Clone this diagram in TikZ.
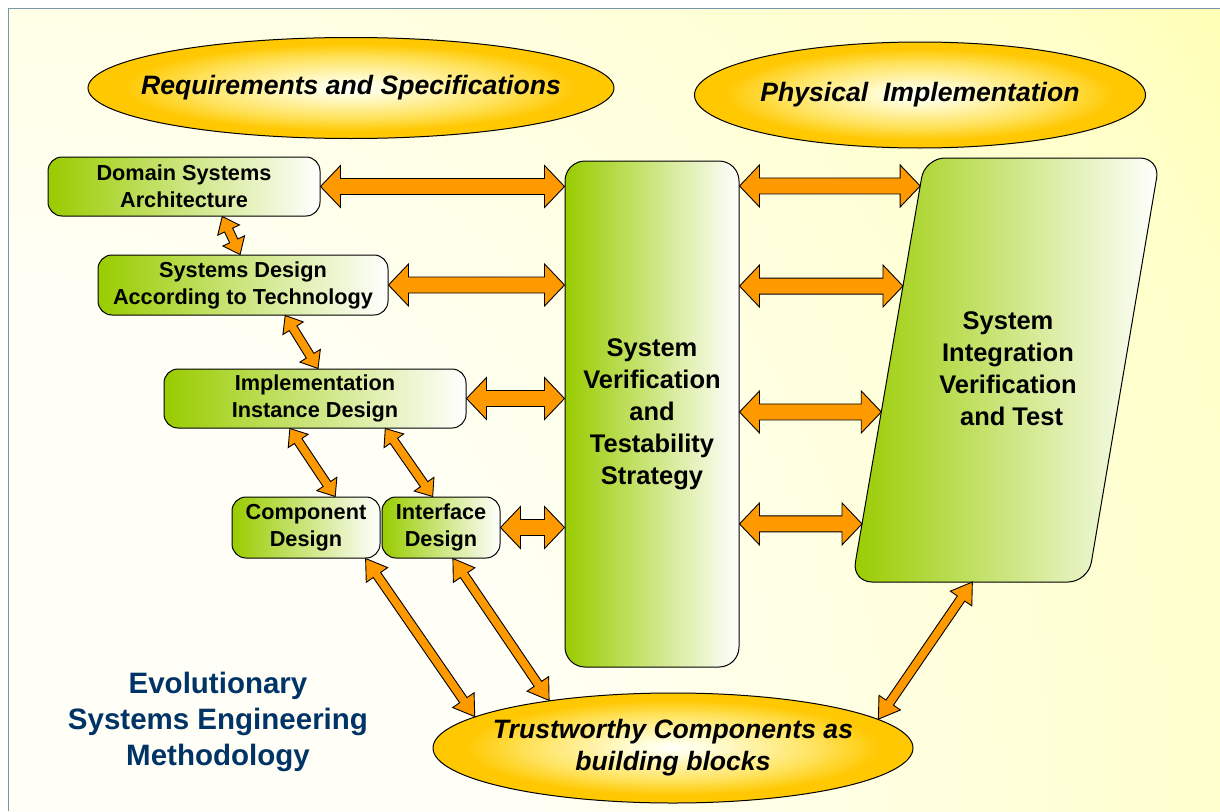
\documentclass[tikz,border=0pt]{standalone}
\usepackage{fontspec}
\setmainfont{Liberation Sans}
\usetikzlibrary{calc,shapes.geometric}
\definecolor{grn}{RGB}{153,204,0}
\definecolor{org}{RGB}{255,153,0}
\definecolor{navy}{RGB}{0,51,102}
\definecolor{bgy}{RGB}{255,255,153}
\definecolor{bga}{RGB}{255,255,200}
\definecolor{bgb}{RGB}{255,255,224}
\definecolor{bgw}{RGB}{255,255,248}
\definecolor{eA}{RGB}{255,255,225}
\definecolor{eB}{RGB}{255,226,90}
\definecolor{eC}{RGB}{255,200,0}
\definecolor{frm}{RGB}{120,150,170}
\pgfdeclareradialshading{bgsh}{\pgfpoint{0bp}{0bp}}{color(0bp)=(bgw); color(8bp)=(bgw); color(15bp)=(bgb); color(22bp)=(bga); color(28bp)=(bgy); color(50bp)=(bgy)}
% stepped radial fill of an ellipse: #1 centre, #2 x radius, #3 y radius
\newcommand\ellbody[3]{%
  \foreach \i in {0,...,44}{%
    \pgfmathsetmacro\s{1-\i/45}%
    \pgfmathsetmacro\pa{min(100,max(0,(\s-0.62)/0.26*100))}%
    \pgfmathsetmacro\pb{min(100,max(0,(\s-0.14)/0.48*100))}%
    \pgfmathsetmacro\pc{min(100,max(0,\s/0.14*100))}%
    \ifdim\s pt>0.62pt \colorlet{ec}{eC!\pa!eB}%
    \else\ifdim\s pt>0.14pt \colorlet{ec}{eB!\pb!eA}%
    \else\colorlet{ec}{eA!\pc!white}\fi\fi
    \fill[ec] #1 ellipse [x radius=#2*\s, y radius=#3*\s];
  }}
% #1 start, #2 end, #3 shaft half width, #4 head half width, #5 head length
\newcommand\dblarr[5]{%
  \draw[arr] (#1)
    -- ($(#1)!#5!(#2)!#4!90:(#2)$)
    -- ($(#1)!#5!(#2)!#3!90:(#2)$)
    -- ($(#2)!#5!(#1)!#3!-90:(#1)$)
    -- ($(#2)!#5!(#1)!#4!-90:(#1)$)
    -- (#2)
    -- ($(#2)!#5!(#1)!#4!90:(#1)$)
    -- ($(#2)!#5!(#1)!#3!90:(#1)$)
    -- ($(#1)!#5!(#2)!#3!-90:(#2)$)
    -- ($(#1)!#5!(#2)!#4!-90:(#2)$)
    -- cycle;}
\begin{document}
\begin{tikzpicture}[x=1pt,y=-1pt,
  box/.style={draw=black, line width=1pt, rounded corners=14pt, left color=grn, right color=white, align=center, inner sep=0pt, font=\fontsize{21.7}{27}\selectfont\bfseries},
  ell/.style={ellipse, draw=black, line width=1pt, inner sep=0pt},
  elltxt/.style={align=center, font=\fontsize{26.6}{32}\selectfont\bfseries\itshape},
  bigtxt/.style={align=center, font=\fontsize{25.5}{32}\selectfont\bfseries},
  arr/.style={draw=black, fill=org, line width=0.9pt, line join=miter}]
\useasboundingbox (0,0) rectangle (1220,811);
\fill[white] (0,0) rectangle (1220,811);
\begin{scope}
  \clip (8.5,8.5) rectangle (1220,811);
  \shade[shading=bgsh] (0,811) circle (1500);
\end{scope}
\draw[frm, line width=1.2pt] (8.5,811) -- (8.5,8.5) -- (1220,8.5);

% ellipses
\ellbody{(351,88)}{263}{50.5}
\node[ell, minimum width=526, minimum height=101] (req) at (351,88) {};
\node[elltxt] (reqt) at (req) {Requirements and Specifications};
\ellbody{(920,95)}{225.5}{53}
\node[ell, minimum width=451, minimum height=106] (phys) at (920,95) {};
\node[elltxt] (physt) at (phys) {Physical\ \ Implementation};
\ellbody{(673,748)}{240}{55}
\node[ell, minimum width=480, minimum height=110] (trust) at (673,748) {};
\node[elltxt] (trustt) at (trust) {Trustworthy Components as\\building blocks};

% boxes
\node[box, minimum width=272, minimum height=59] (dsa) at (184,186.5) {Domain Systems\\Architecture};
\node[box, minimum width=290, minimum height=60] (sdat) at (243,285) {Systems Design\\According to Technology};
\node[box, minimum width=302, minimum height=59] (iid) at (315,398.5) {Implementation\\Instance Design};
\node[box, minimum width=148, minimum height=61] (cd) at (306,527.5) {Component\\Design};
\node[box, minimum width=118, minimum height=61] (id) at (441,527.5) {Interface\\Design};
\node[box, rounded corners=20pt, minimum width=174, minimum height=506, font=\fontsize{25.5}{32}\selectfont\bfseries] (svts) at (652,414) {System\\Verification\\and\\Testability\\Strategy};

% parallelogram
\coordinate (sTL) at (925,158);
\coordinate (sTR) at (1160,158);
\coordinate (sBR) at (1088,582);
\coordinate (sBL) at (852,582);
\shadedraw[left color=grn, right color=white, draw=black, line width=1pt, rounded corners=20pt] (sTL) -- (sTR) -- (sBR) -- (sBL) -- cycle;
\node[bigtxt] (sivt) at (1008,369) {System\\Integration\\Verification\\\ and Test};

% title
\node[font=\fontsize{29.5}{36}\selectfont\bfseries, text=navy, align=center] (title) at (218,722) {Evolutionary\\Systems Engineering\\Methodology};

% horizontal arrows left
\dblarr{dsa.east}{svts.west |- dsa.east}{8pt}{21pt}{20pt}
\dblarr{sdat.east}{svts.west |- sdat.east}{8pt}{21pt}{20pt}
\dblarr{iid.east}{svts.west |- iid.east}{8pt}{21pt}{20pt}
\dblarr{id.east}{svts.west |- id.east}{8pt}{21pt}{20pt}

% horizontal arrows right
\coordinate (e1) at ($(sTL)!0.066!(sBL)$);
\coordinate (e2) at ($(sTL)!0.302!(sBL)$);
\coordinate (e3) at ($(sTL)!0.599!(sBL)$);
\coordinate (e4) at ($(sTL)!0.863!(sBL)$);
\dblarr{svts.east |- e1}{e1}{8pt}{21pt}{20pt}
\dblarr{svts.east |- e2}{e2}{8pt}{21pt}{20pt}
\dblarr{svts.east |- e3}{e3}{8pt}{21pt}{20pt}
\dblarr{svts.east |- e4}{e4}{8pt}{21pt}{20pt}

% diagonal arrows
\coordinate (d1a) at ($(dsa.south west)!0.64!(dsa.south east)$);
\coordinate (d1b) at ($(sdat.north west)!0.49!(sdat.north east)$);
\coordinate (d2a) at ($(sdat.south west)!0.645!(sdat.south east)$);
\coordinate (d2b) at ($(iid.north west)!0.51!(iid.north east)$);
\coordinate (d3a) at ($(iid.south west)!0.417!(iid.south east)$);
\coordinate (d3b) at ($(cd.north west)!0.696!(cd.north east)$);
\coordinate (d4a) at ($(iid.south west)!0.732!(iid.south east)$);
\coordinate (d4b) at ($(id.north west)!0.43!(id.north east)$);
\coordinate (d5a) at ($(cd.south west)!0.9!(cd.south east)$);
\coordinate (d6a) at ($(id.south west)!0.6!(id.south east)$);
\coordinate (d7a) at ($(sBL)!0.51!(sBR)$);
\dblarr{d1a}{d1b}{4.5pt}{12pt}{15pt}
\dblarr{d2a}{d2b}{4.5pt}{12pt}{15pt}
\dblarr{d3a}{d3b}{4.5pt}{12pt}{15pt}
\dblarr{d4a}{d4b}{4.5pt}{12pt}{15pt}
\dblarr{d5a}{trust.171.5}{4.5pt}{13pt}{20pt}
\dblarr{d6a}{trust.159}{4.5pt}{13pt}{20pt}
\dblarr{d7a}{trust.8}{4.5pt}{13pt}{20pt}
\end{tikzpicture}
\end{document}
